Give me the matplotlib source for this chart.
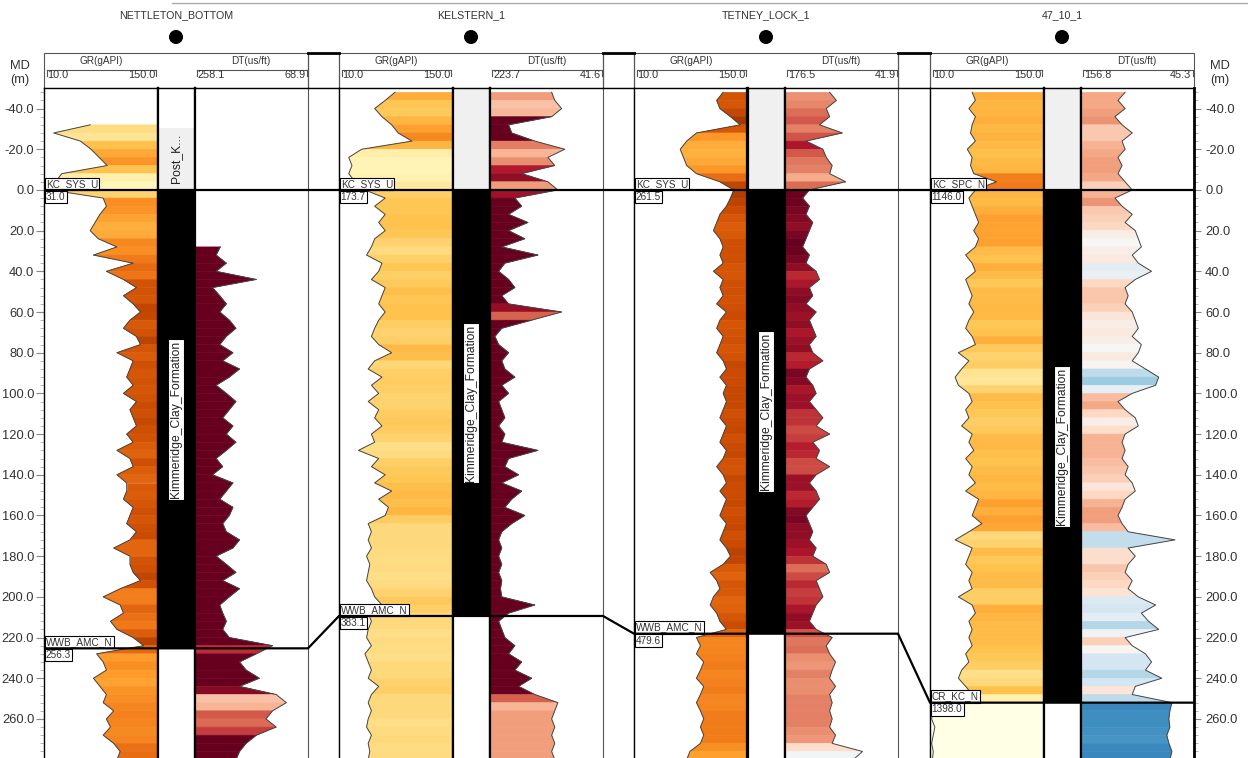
import numpy as np
import matplotlib
matplotlib.use("Agg")
import matplotlib.pyplot as plt
from matplotlib.collections import PolyCollection
from matplotlib.colors import Normalize
from matplotlib.patches import Rectangle, Circle
from matplotlib.ticker import MultipleLocator, FuncFormatter
import matplotlib.transforms as mtransforms

plt.rcParams['font.family'] = ['Liberation Sans', 'DejaVu Sans']

nan = np.nan

# ---------------- data ----------------
# flattened depth below the Kimmeridge Clay top (m)
DEPTH = np.arange(-48, 284, 4)

WELL_NAMES = ["NETTLETON_BOTTOM", "KELSTERN_1", "TETNEY_LOCK_1", "47_10_1"]
TOP_MARKERS = ["KC_SYS_U", "KC_SYS_U", "KC_SYS_U", "KC_SPC_N"]
TOP_MD = [31.0, 173.7, 261.5, 1146.0]
BASE_MARKERS = ["WWB_AMC_N", "WWB_AMC_N", "WWB_AMC_N", "CR_KC_N"]
BASE_MD = [256.3, 383.1, 479.6, 1398.0]
UPPER_ZONE_TOP = [-30.6, -60.0, -60.0, -60.0]
UPPER_ZONE_LABEL = ["Post_K...", "", "", ""]
FORMATION = "Kimmeridge_Clay_Formation"
GR_SCALE = (10.0, 150.0)
DT_SCALE = [(258.1, 68.9), (223.7, 41.6), (176.5, 41.9), (156.8, 45.3)]

GR_1 = [nan, nan, nan, nan, 67, 22, 55, 68, 78, 88, 32, 24,
        18,
        83, 87, 79, 73, 67, 77, 100, 71, 120, 87,
        108, 124, 108, 120, 129, 116, 108, 124, 129, 100,
        120, 116, 112, 120, 108, 124, 116, 120, 124, 112,
        120, 100, 116, 120, 100, 112, 112, 108, 120, 116,
        112, 124, 116, 96, 116, 116, 120, 129, 104, 83,
        104, 108, 92, 100, 120, 133,
        75, 83, 87, 71, 79, 87, 83, 96, 87, 92, 83, 96, 104, 100]
GR_2 = [79, 67, 54, 63, 75, 83, 100, 38, 22, 26, 22, 30,
        42,
        67, 54, 67, 59, 67, 54, 50, 44, 63, 59,
        50, 67, 63, 59, 67, 59, 54, 50, 59, 75,
        54, 46, 63, 50, 59, 46, 59, 54, 63, 50,
        54, 34, 59, 50, 67, 54, 75, 59, 71, 67,
        46, 50, 46, 50, 44, 48, 46, 44, 50, 54,
        63, 46, 50, 46, 44, 50,
        42, 46, 50, 46, 59, 50, 46, 50, 46, 44, 50, 46, 48, 46]
GR_3 = [120, 112, 116, 129, 141, 87, 75, 67, 71, 75, 87, 116,
        133,
        129, 124, 116, 112, 108, 116, 120, 116, 120, 108,
        120, 116, 120, 112, 124, 116, 112, 120, 116, 112,
        120, 124, 116, 124, 120, 124, 120, 116, 124, 120,
        116, 124, 120, 112, 120, 124, 116, 124, 120, 116,
        124, 120, 116, 124, 129, 120, 104, 112, 116, 108,
        104, 112, 116, 124, 87, 92,
        87, 96, 92, 87, 96, 92, 87, 92, 96, 92, 96, 92, 79, 75]
GR_4 = [62, 66, 58, 66, 62, 60, 66, 56, 62, 60, 64, 92,
        66,
        58, 62, 66, 70, 64, 70, 66, 54, 62, 66,
        54, 58, 62, 58, 64, 58, 54, 62, 66, 45,
        58, 49, 41, 45, 58, 62, 54, 58, 49, 62,
        58, 64, 54, 62, 58, 66, 54, 70, 66, 62,
        74, 58, 41, 62, 58, 54, 62, 58, 62, 45,
        62, 66, 58, 62, 58, 62,
        54, 58, 49, 45, 54, 62, 12, 14, 12, 16, 14, 12, 14, 13]

DT_1 = [nan, nan, nan, nan, nan, nan, nan, nan, nan, nan, nan, nan,
        nan,
        nan, nan, nan, nan, nan, nan, 215, 222, 205, 222,
        155, 228, 216, 205, 216, 200, 189, 205, 216, 194,
        211, 183, 200, 222, 205, 189, 200, 211, 194, 205,
        189, 205, 222, 211, 228, 194, 205, 216, 194, 200,
        211, 205, 183, 194, 222, 205, 189, 211, 183, 200,
        216, 211, 205, 211, 200, 128,
        155, 183, 172, 150, 183, 122, 105, 128, 139, 122, 155, 172, 183, 189]
DT_2 = [124, 119, 108, 124, 193, 188, 151, 103, 130, 119, 172, 130,
        114,
        183, 172, 193, 162, 193, 167, 204, 146, 199, 209,
        193, 183, 204, 193, 108, 156, 204, 215, 209, 193,
        204, 199, 183, 204, 193, 209, 204, 199, 209, 199,
        204, 146, 193, 199, 177, 204, 172, 188, 199, 167,
        188, 204, 209, 204, 209, 204, 209, 204, 206, 204,
        151, 193, 209, 204, 199, 183,
        193, 172, 183, 156, 177, 151, 114, 119, 124, 119, 124, 119, 124, 119]
DT_3 = [123, 115, 127, 123, 135, 108, 151, 131, 127, 120, 123, 104,
        147,
        155, 147, 151, 143, 147, 151, 155, 147, 151, 139,
        135, 147, 143, 151, 139, 147, 143, 139, 147, 143,
        131, 147, 151, 143, 139, 147, 139, 131, 139, 123,
        143, 135, 139, 123, 139, 147, 139, 135, 143, 151,
        147, 143, 147, 139, 143, 127, 123, 139, 135, 131,
        139, 143, 147, 139, 120, 127,
        123, 116, 120, 123, 116, 123, 120, 123, 120, 123, 116, 120, 84, 95]
DT_4 = [113, 120, 113, 123, 116, 106, 116, 113, 120, 116, 120, 113,
        106,
        123, 116, 106, 113, 103, 100, 97, 106, 100, 87,
        103, 113, 110, 113, 106, 103, 100, 106, 97, 100,
        106, 93, 80, 83, 106, 120, 113, 103, 100, 113,
        116, 113, 116, 110, 113, 106, 103, 113, 116, 120,
        116, 110, 64, 110, 103, 110, 113, 106, 110, 100,
        83, 97, 90, 80, 113, 106,
        93, 87, 93, 77, 103, 106, 67, 69, 70, 69, 72, 70, 67, 69]

GR_CURVES = [GR_1, GR_2, GR_3, GR_4]
DT_CURVES = [DT_1, DT_2, DT_3, DT_4]

# ---------------- style / layout ----------------
W_PX, H_PX = 1248, 758
Y_TOP_PX = 88
D_TOP, D_BOT = -50.1, 279.2
WELL_X0 = [44, 339, 634, 930]
GR_W, ZONE_W, DT_W = 113.5, 37.0, 113.5
WELL_W = GR_W + ZONE_W + DT_W
GR_CMAP = plt.get_cmap('YlOrBr')
DT_CMAP = plt.get_cmap('RdBu_r')
GR_CLIM = [(0, 160), (0, 165), (0, 160), (20, 120)]
DT_CLIM = [(32, 158), (32, 158), (30, 152), (52, 145)]
CURVE_COLOR = '#454545'
ZONE_GRAY = '#f0f0f0'

fig = plt.figure(figsize=(W_PX / 100, H_PX / 100), dpi=100)

frame = fig.add_axes([0, 0, 1, 1], zorder=0)
frame.set_xlim(0, W_PX)
frame.set_ylim(H_PX, 0)
frame.axis('off')


def add_track(x0, x1, z=1):
    ax = fig.add_axes([x0 / W_PX, 0, (x1 - x0) / W_PX, (H_PX - Y_TOP_PX) / H_PX], zorder=z)
    ax.set_ylim(D_BOT, D_TOP)
    ax.set_xticks([])
    ax.set_yticks([])
    ax.spines['bottom'].set_visible(False)
    for s in ('left', 'right', 'top'):
        ax.spines[s].set_color('black')
        ax.spines[s].set_linewidth(1.0)
    return ax


def fill_polys(ax, depth, vals, edge, cmap, norm):
    polys, cols = [], []
    for i in range(len(depth) - 1):
        v0, v1 = vals[i], vals[i + 1]
        if np.isnan(v0) or np.isnan(v1):
            continue
        polys.append([(v0, depth[i]), (v1, depth[i + 1]), (edge, depth[i + 1]), (edge, depth[i])])
        cols.append(cmap(norm(0.5 * (v0 + v1))))
    pc = PolyCollection(polys, facecolors=cols, edgecolors=cols, linewidths=0.4)
    ax.add_collection(pc)


def depth_fmt(v, p):
    return "0.0" if abs(v) < 1e-9 else f"{v:.1f}"


label_kw = dict(fontsize=7.2, color='#333333')
box_kw = dict(boxstyle='square,pad=0.12', fc='white', ec='black', lw=0.8)

for i in range(4):
    x0 = WELL_X0[i]
    xz0 = x0 + GR_W
    xd0 = xz0 + ZONE_W
    xd1 = xd0 + DT_W
    base = BASE_MD[i] - TOP_MD[i]
    gr = np.array(GR_CURVES[i], dtype=float)
    dt = np.array(DT_CURVES[i], dtype=float)

    # ---- GR track
    ax = add_track(x0, xz0)
    ax.set_xlim(*GR_SCALE)
    ax.spines['right'].set_linewidth(1.6)
    fill_polys(ax, DEPTH, gr, GR_SCALE[1], GR_CMAP, Normalize(*GR_CLIM[i]))
    ax.plot(gr, DEPTH, color=CURVE_COLOR, lw=0.7)
    tr = mtransforms.blended_transform_factory(ax.transAxes, ax.transData)
    ax.text(0.015, -0.6, TOP_MARKERS[i], transform=tr, ha='left', va='bottom', bbox=box_kw, zorder=10, **label_kw)
    ax.text(0.015, 0.9, f"{TOP_MD[i]:.1f}", transform=tr, ha='left', va='top', bbox=box_kw, zorder=10, **label_kw)
    ax.text(0.015, base - 0.6, BASE_MARKERS[i], transform=tr, ha='left', va='bottom', bbox=box_kw, zorder=10, **label_kw)
    ax.text(0.015, base + 0.9, f"{BASE_MD[i]:.1f}", transform=tr, ha='left', va='top', bbox=box_kw, zorder=10, **label_kw)
    if i == 0:
        ax.yaxis.set_major_locator(MultipleLocator(20))
        ax.yaxis.set_minor_locator(MultipleLocator(4))
        ax.yaxis.set_major_formatter(FuncFormatter(depth_fmt))
        ax.tick_params(axis='y', which='major', length=6, color='#888888', width=0.8,
                       labelsize=9.3, labelcolor='#333333', pad=1)
        ax.tick_params(axis='y', which='minor', length=3, color='#aaaaaa', width=0.6)

    # ---- zone track
    az = add_track(xz0, xd0)
    az.set_xlim(0, 1)
    az.spines['left'].set_linewidth(1.6)
    az.spines['right'].set_linewidth(1.6)
    az.axhspan(UPPER_ZONE_TOP[i], 0, color=ZONE_GRAY, lw=0)
    az.axhspan(0, base, color='black', lw=0)
    az.text(0.5, base / 2, FORMATION, rotation=90, ha='center', va='center', fontsize=8.7,
            color='#222222', bbox=dict(boxstyle='square,pad=0.15', fc='white', ec='black', lw=0.8))
    if UPPER_ZONE_LABEL[i]:
        az.text(0.5, UPPER_ZONE_TOP[i] / 2, UPPER_ZONE_LABEL[i], rotation=90, ha='center',
                va='center', fontsize=8.7, color='#222222')

    # ---- DT track
    ad = add_track(xd0, xd1)
    ad.set_xlim(*DT_SCALE[i])
    ad.spines['left'].set_linewidth(1.6)
    ad.spines['right'].set_linewidth(0.8)
    ad.spines['right'].set_color('#555555')
    fill_polys(ad, DEPTH, dt, DT_SCALE[i][0], DT_CMAP, Normalize(*DT_CLIM[i]))
    ad.plot(dt, DEPTH, color=CURVE_COLOR, lw=0.7)
    if i == 3:
        ad.spines['right'].set_linewidth(2.0)
        ad.spines['right'].set_color('black')
        ad.yaxis.tick_right()
        ad.yaxis.set_major_locator(MultipleLocator(20))
        ad.yaxis.set_minor_locator(MultipleLocator(4))
        ad.yaxis.set_major_formatter(FuncFormatter(depth_fmt))
        ad.tick_params(axis='y', which='major', length=5, color='#888888', width=0.8,
                       labelsize=9.3, labelcolor='#333333', pad=3)
        ad.tick_params(axis='y', which='minor', length=3, color='#aaaaaa', width=0.6)

    # ---- gap column
    if i < 3:
        ag = add_track(xd1, WELL_X0[i + 1], z=0.5)
        ag.spines['left'].set_visible(False)
        ag.spines['right'].set_color('#555555')
        ag.spines['right'].set_linewidth(0.8)
        frame.add_patch(Rectangle((xd1, 53), WELL_X0[i + 1] - xd1, 35, fill=False, ec='black', lw=0.8))
        frame.plot([xd1, WELL_X0[i + 1]], [53, 53], color='black', lw=2)

    # ---- header
    frame.add_patch(Rectangle((x0, 53), WELL_W, 35, fill=False, ec='#555555', lw=0.8))
    for (a, b, title, lo, hi) in [(x0, xz0, "GR(gAPI)", GR_SCALE[0], GR_SCALE[1]),
                                   (xd0, xd1, "DT(us/ft)", DT_SCALE[i][0], DT_SCALE[i][1])]:
        frame.text((a + b) / 2, 61.5, title, ha='center', va='center', fontsize=7.2, color='#333333')
        frame.plot([a + 2.5, b - 1.5], [70, 70], color='#555555', lw=0.8)
        frame.plot([a + 2.5, a + 2.5], [70, 76], color='#555555', lw=0.8)
        frame.plot([b - 1.5, b - 1.5], [70, 76], color='#555555', lw=0.8)
        frame.text(a + 3.5, 75.5, f"{lo:.1f}", ha='left', va='center', fontsize=7.8, color='#333333')
        frame.text(b - 2.5, 75.5, f"{hi:.1f}", ha='right', va='center', fontsize=7.8, color='#333333')

    xc = xz0 + ZONE_W / 2
    frame.text(xc, 15, WELL_NAMES[i], ha='center', va='center', fontsize=7.7, color='#333333')
    frame.add_patch(Circle((xc, 37), 6.3, color='black'))

# MD labels and top rule
for xm in (20, 1220):
    frame.text(xm, 66, "MD", ha='center', va='center', fontsize=9.3, color='#333333')
    frame.text(xm, 80, "(m)", ha='center', va='center', fontsize=9.3, color='#333333')
frame.plot([172, W_PX], [2.5, 2.5], color='#aaaaaa', lw=1)

# ---- correlation lines (overlay)
ov = fig.add_axes([WELL_X0[0] / W_PX, 0, (WELL_X0[3] + WELL_W - WELL_X0[0]) / W_PX,
                   (H_PX - Y_TOP_PX) / H_PX], zorder=5)
ov.set_xlim(WELL_X0[0], WELL_X0[3] + WELL_W)
ov.set_ylim(D_BOT, D_TOP)
ov.patch.set_alpha(0)
ov.axis('off')
xs, tops, bases = [], [], []
for i in range(4):
    xs += [WELL_X0[i], WELL_X0[i] + WELL_W]
    tops += [0.0, 0.0]
    b = BASE_MD[i] - TOP_MD[i]
    bases += [b, b]
ov.plot(xs, tops, color='black', lw=1.6, solid_joinstyle='miter')
ov.plot(xs, bases, color='black', lw=1.6, solid_joinstyle='miter')

fig.savefig('out.png', dpi=100)
